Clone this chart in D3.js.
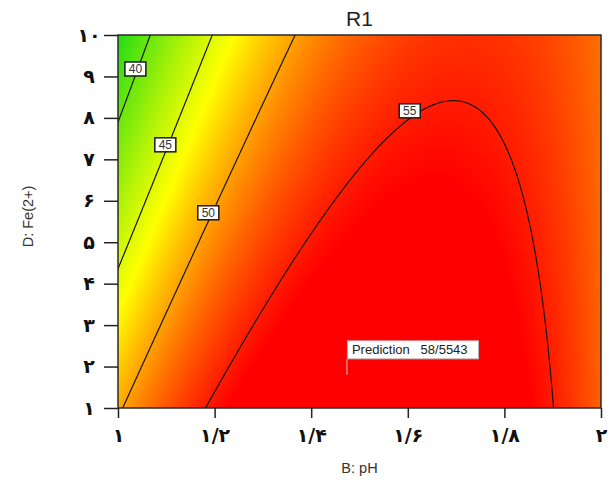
<!DOCTYPE html>
<html><head><meta charset="utf-8">
<script src="https://cdn.jsdelivr.net/npm/d3@7"></script>
<style>body{margin:0;background:#fff} svg{display:block}</style>
</head><body>
<svg id="c" width="616" height="491"></svg>
<script>
// ---------- data ----------
const title = "R1";
const xLabel = "B: pH";
const yLabel = "D: Fe(2+)";
const xTicks = [1, 1.2, 1.4, 1.6, 1.8, 2];
const xTickLabels = ["۱", "۱/۲", "۱/۴", "۱/۶", "۱/۸", "۲"];
const yTicks = [1, 2, 3, 4, 5, 6, 7, 8, 9, 10];
const yTickLabels = ["۱", "۲", "۳", "۴", "۵", "۶", "۷", "۸", "۹", "۱۰"];
const xDomain = [1, 2];
const yDomain = [1, 10];
// quadratic response-surface model in coded factors: Intercept, B, D, B², D², BD
const modelTerms = ["Intercept", "B", "D", "B2", "D2", "BD"];
const modelCoefs = [55.95, 4.383, -3.315, -8.17, -0.08, 3.027];
const contourLevels = [40, 45, 50, 55];
const contourLabelPH = [1.036, 1.098, 1.187, 1.604];
const contourLabelFe = [9.18, 7.35, 5.71, 8.17];
const predictionPH = 1.474;
const predictionFe = 1.80;
const predictionText = "Prediction   58/5543";
const colorStops = [37, 46.5, 56];
const colorRange = ["#22dc14", "#ffff00", "#ff0000"];

// ---------- layout ----------
const L = 118, R = 601, T = 35, B = 408;
const svg = d3.select("#c");
const x = d3.scaleLinear().domain(xDomain).range([L, R]);
const y = d3.scaleLinear().domain(yDomain).range([B, T]);
const color = d3.scaleLinear().domain(colorStops).range(colorRange).clamp(true);

function model(ph, fe) {
  const X = (ph - 1.5) / 0.5, Y = (fe - 5.5) / 4.5;
  const c = modelCoefs;
  return c[0] + c[1]*X + c[2]*Y + c[3]*X*X + c[4]*Y*Y + c[5]*X*Y;
}

// ---------- heat map ----------
const W = R - L, H = B - T;
const canvas = document.createElement("canvas");
canvas.width = W; canvas.height = H;
const ctx = canvas.getContext("2d");
const img = ctx.createImageData(W, H);
for (let j = 0; j < H; j++) {
  for (let i = 0; i < W; i++) {
    const v = model(x.invert(L + i + 0.5), y.invert(T + j + 0.5));
    const c = d3.rgb(color(v));
    const k = (j * W + i) * 4;
    img.data[k] = c.r; img.data[k+1] = c.g; img.data[k+2] = c.b; img.data[k+3] = 255;
  }
}
ctx.putImageData(img, 0, 0);
svg.append("image").attr("x", L).attr("y", T).attr("width", W).attr("height", H)
  .attr("preserveAspectRatio", "none").attr("href", canvas.toDataURL());

// ---------- contours ----------
const n = 300, m = 300;
const gx0 = 0.98, gx1 = 2.02, gy0 = 0.8, gy1 = 10.2;
const sx = (gx1 - gx0) / (n - 1), sy = (gy1 - gy0) / (m - 1);
const vals = new Array(n * m);
for (let j = 0; j < m; j++) for (let i = 0; i < n; i++)
  vals[j * n + i] = model(gx0 + i * sx, gy0 + j * sy);
const contours = d3.contours().size([n, m]).thresholds(contourLevels)(vals);
svg.append("clipPath").attr("id", "clip").append("rect")
  .attr("x", L).attr("y", T).attr("width", W).attr("height", H);
const line = d3.line()
  .x(p => x(gx0 + (p[0] - 0.5) * sx))
  .y(p => y(gy0 + (p[1] - 0.5) * sy));
const cg = svg.append("g").attr("clip-path", "url(#clip)");
contours.forEach(c => {
  c.coordinates.forEach(poly => poly.forEach(ring => {
    cg.append("path").attr("d", line(ring) + "Z")
      .attr("fill", "none").attr("stroke", "#151515").attr("stroke-width", 1.2);
  }));
});

// contour labels
contourLevels.forEach((lv, i) => {
  const g = svg.append("g").attr("transform", `translate(${x(contourLabelPH[i])},${y(contourLabelFe[i])})`);
  g.append("rect").attr("x", -10.5).attr("y", -7).attr("width", 21).attr("height", 14)
    .attr("fill", "#fff").attr("stroke", "#1a1a1a").attr("stroke-width", 1.5);
  g.append("text").attr("text-anchor", "middle").attr("y", 4.5)
    .attr("font-family", "Liberation Sans, Arial, sans-serif").attr("font-size", 12)
    .attr("fill", "#333").text(lv);
});

// prediction flag
{
  const px = x(predictionPH), py = y(predictionFe);
  svg.append("line").attr("x1", px).attr("x2", px).attr("y1", py).attr("y2", py - 16)
    .attr("stroke", "#f4b8b8").attr("stroke-width", 1);
  const g = svg.append("g").attr("transform", `translate(${px},${py - 16})`);
  g.append("rect").attr("x", 0.5).attr("y", -18).attr("width", 131).attr("height", 18)
    .attr("fill", "#fff").attr("stroke", "#bbb").attr("stroke-width", 1);
  g.append("text").attr("x", 5).attr("y", -5)
    .attr("font-family", "Liberation Sans, Arial, sans-serif").attr("font-size", 13)
    .attr("fill", "#222").attr("xml:space", "preserve").style("white-space", "pre").text(predictionText);
}

// frame
svg.append("rect").attr("x", L).attr("y", T).attr("width", W).attr("height", H)
  .attr("fill", "none").attr("stroke", "#2a2a2a").attr("stroke-width", 1.5);

// ---------- axes ----------
const xAxis = d3.axisBottom(x).tickValues(xTicks).tickSize(10).tickPadding(11)
  .tickFormat((d, i) => xTickLabels[i]);
const gx = svg.append("g").attr("transform", `translate(0,${B})`).call(xAxis);
gx.select(".domain").remove();
gx.selectAll(".tick line").attr("stroke", "#222").attr("stroke-width", 1.5);
gx.selectAll(".tick text").attr("font-family", "DejaVu Sans, sans-serif")
  .attr("font-weight", "bold").attr("font-size", 19).attr("fill", "#111");

const yAxis = d3.axisLeft(y).tickValues(yTicks).tickSize(14).tickPadding(8)
  .tickFormat((d, i) => yTickLabels[i]);
const gy = svg.append("g").attr("transform", `translate(${L},0)`).call(yAxis);
gy.select(".domain").remove();
gy.selectAll(".tick line").attr("stroke", "#222").attr("stroke-width", 1.5);
gy.selectAll(".tick text").attr("font-family", "DejaVu Sans, sans-serif")
  .attr("font-weight", "bold").attr("font-size", 19).attr("fill", "#111")
  .attr("text-anchor", "middle").attr("dx", -7);

// titles
svg.append("text").attr("x", (L + R) / 2).attr("y", 26).attr("text-anchor", "middle")
  .attr("font-family", "Liberation Sans, Arial, sans-serif").attr("font-size", 21)
  .attr("fill", "#222").text(title);
svg.append("text").attr("x", (L + R) / 2).attr("y", 473).attr("text-anchor", "middle")
  .attr("font-family", "Liberation Sans, Arial, sans-serif").attr("font-size", 14.5)
  .attr("fill", "#333").text(xLabel);
svg.append("text").attr("transform", `translate(33,${(T + B) / 2 - 5}) rotate(-90)`)
  .attr("text-anchor", "middle")
  .attr("font-family", "Liberation Sans, Arial, sans-serif").attr("font-size", 14.5)
  .attr("fill", "#333").text(yLabel);
</script>
</body></html>
